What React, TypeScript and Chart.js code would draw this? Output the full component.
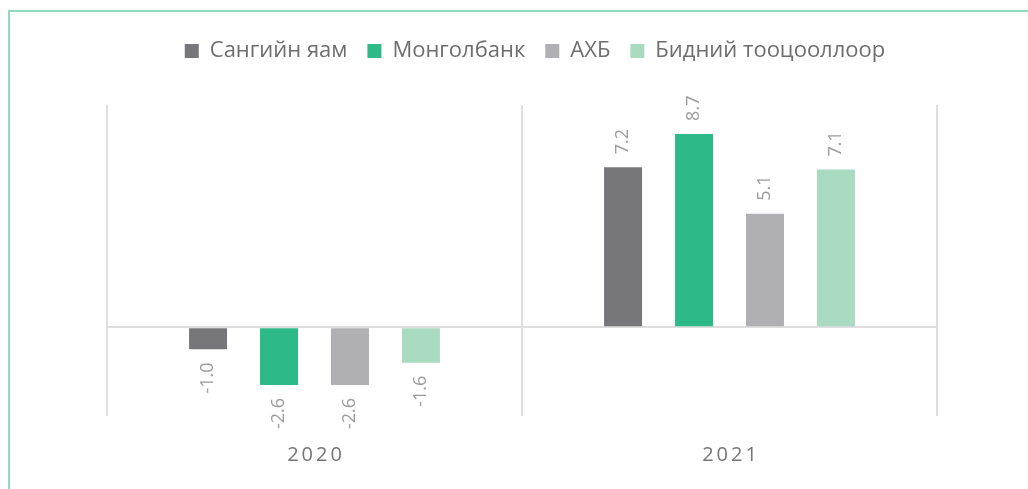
import React, { useEffect, useRef } from "react";
import { Chart, registerables } from "chart.js";

Chart.register(...registerables);

const categories = ["2020", "2021"];
const seriesNames = ["Сангийн яам", "Монголбанк", "АХБ", "Бидний тооцооллоор"];
const sangiinYaam = [-1.0, 7.2];
const mongolbank = [-2.6, 8.7];
const akhb = [-2.6, 5.1];
const bidniiTootsoo = [-1.6, 7.1];
const seriesColors = ["#77777b", "#2eba88", "#b0b0b4", "#a8dbc0"];

const FONT = "'Open Sans', 'Noto Sans', sans-serif";

const legendMargin = {
  id: "legendMargin",
  beforeInit(chart: any) {
    const legend = chart.legend;
    if (!legend) return;
    const orig = legend.fit;
    legend.fit = function () {
      orig.call(this);
      this.height += 33;
    };
  },
};

const barLabels = {
  id: "barLabels",
  afterDatasetsDraw(chart: any) {
    const ctx = chart.ctx;
    ctx.save();
    ctx.font = `18px ${FONT}`;
    ctx.fillStyle = "#9c9c9c";
    ctx.textBaseline = "middle";
    chart.data.datasets.forEach((ds: any, di: number) => {
      const meta = chart.getDatasetMeta(di);
      meta.data.forEach((el: any, i: number) => {
        const v = ds.data[i];
        const off = 13;
        ctx.save();
        ctx.translate(el.x, v >= 0 ? el.y - off : el.y + off);
        ctx.rotate(-Math.PI / 2);
        ctx.textAlign = v >= 0 ? "left" : "right";
        ctx.fillText(v.toFixed(1), 0, 0);
        ctx.restore();
      });
    });
    ctx.restore();
  },
};

const xLabels = {
  id: "xLabels",
  afterDraw(chart: any) {
    const ctx = chart.ctx;
    const xs = chart.scales.x;
    ctx.save();
    ctx.font = `20px ${FONT}`;
    ctx.fillStyle = "#767676";
    ctx.textAlign = "center";
    ctx.textBaseline = "middle";
    const sp = 3;
    (ctx as any).letterSpacing = `${sp}px`;
    categories.forEach((c, i) => {
      ctx.fillText(c, xs.getPixelForValue(i) + sp / 2, 455);
    });
    ctx.restore();
  },
};

export default function App() {
  const ref = useRef<HTMLCanvasElement | null>(null);
  useEffect(() => {
    if (!ref.current) return;
    const data = [sangiinYaam, mongolbank, akhb, bidniiTootsoo];
    const chart = new Chart(ref.current, {
      type: "bar",
      data: {
        labels: categories,
        datasets: seriesNames.map((name, i) => ({
          label: name,
          data: data[i],
          backgroundColor: seriesColors[i],
          borderWidth: 0,
          categoryPercentage: 0.684,
          barPercentage: 0.535,
        })),
      },
      options: {
        animation: false,
        responsive: false,
        layout: { padding: { left: 42, right: 0, top: 20, bottom: 0 } },
        plugins: {
          legend: {
            position: "top",
            align: "center",
            labels: {
              font: { family: FONT, size: 22 },
              color: "#6e6e6e",
              boxWidth: 14,
              boxHeight: 14,
              padding: 20,
            },
          },
          tooltip: { enabled: false },
        },
        scales: {
          x: {
            display: true,
            ticks: { display: false },
            border: { display: false },
            grid: {
              offset: true,
              drawTicks: false,
              color: "#dedede",
              lineWidth: 2,
            },
            afterFit: (s: any) => {
              s.height = 73;
            },
          },
          y: {
            display: true,
            min: -4,
            max: 10,
            ticks: { display: false, stepSize: 2 },
            border: { display: false },
            grid: {
              drawTicks: false,
              lineWidth: 2,
              color: (c: any) => (c.tick && c.tick.value === 0 ? "#dedede" : "rgba(0,0,0,0)"),
            },
            afterFit: (s: any) => {
              s.width = 65;
            },
          },
          y2: {
            display: true,
            position: "right",
            ticks: { display: false },
            border: { display: false },
            grid: { display: false, drawTicks: false },
            afterFit: (s: any) => {
              s.width = 91;
            },
          },
        },
      },
      plugins: [legendMargin, barLabels, xLabels],
    } as any);
    return () => chart.destroy();
  }, []);

  return (
    <div style={{ position: "absolute", left: 0, top: 0, width: 1028, height: 489, background: "#ffffff", overflow: "hidden" }}>
      <div
        style={{
          position: "absolute",
          left: 8,
          top: 10,
          width: 1020,
          height: 479,
          boxSizing: "border-box",
          borderTop: "2px solid #8edcbd",
          borderLeft: "2px solid #8edcbd",
        }}
      />
      <canvas ref={ref} width={1028} height={489} style={{ position: "absolute", left: 0, top: 0 }} />
    </div>
  );
}
